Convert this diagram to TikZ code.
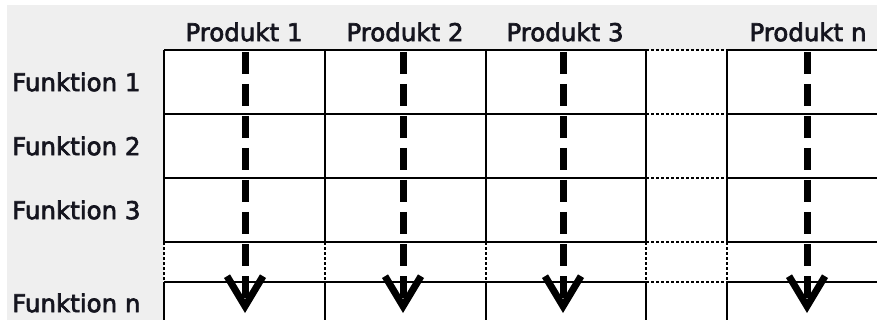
\documentclass[tikz,border=0pt]{standalone}
\usepackage{fontspec}
\setmainfont{DejaVu Sans}
\newfontfamily\lblfont{DejaVu Sans}[FakeBold=2.6]
\usetikzlibrary{arrows.meta}
\definecolor{bggray}{HTML}{EFEFEF}
\definecolor{txt}{HTML}{15151F}
\begin{document}
\begin{tikzpicture}[x=1pt,y=-1pt,
  lbl/.style={font=\lblfont\fontsize{24.5}{28}\selectfont, text=txt, inner sep=0pt},
  gridline/.style={line width=1.4pt, black},
  dotline/.style={line width=1.4pt, black, dash pattern=on 2.5pt off 2.5pt},
  flow/.style={line width=7pt, black, dash pattern=on 22pt off 10pt,
    -{Straight Barb[length=30pt,width=36pt,line width=7pt]}}]
\useasboundingbox (0,0) rectangle (877,320);
\fill[white] (0,0) rectangle (877,320);
\fill[bggray] (7,5) rectangle (877,320);
% cells
\foreach \a/\b in {164/325,325/486,486/646,727/877}{
  \fill[white] (\a,50) rectangle (\b,242);
  \fill[white] (\a,282) rectangle (\b,320);
}
\fill[white] (164,242) rectangle (877,282);
\fill[white] (646,50) rectangle (727,320);
% horizontal lines
\foreach \y in {50,114,178,242,282}{
  \draw[gridline] (164,\y) -- (646,\y);
  \draw[dotline] (646,\y) -- (727,\y);
  \draw[gridline] (727,\y) -- (877,\y);
}
% vertical lines
\foreach \x in {164,325,486,646,727}{
  \draw[gridline] (\x,50) -- (\x,242);
  \draw[dotline] (\x,242) -- (\x,282);
  \draw[gridline] (\x,282) -- (\x,320);
}
% labels
\node[lbl] (p1) at (244,32) {Produkt 1};
\node[lbl] (p2) at (405,32) {Produkt 2};
\node[lbl] (p3) at (565,32) {Produkt 3};
\node[lbl] (pn) at (808,32) {Produkt n};
\node[lbl, anchor=west] (f1) at (12,82) {Funktion 1};
\node[lbl, anchor=west] (f2) at (12,146) {Funktion 2};
\node[lbl, anchor=west] (f3) at (12,210) {Funktion 3};
\node[lbl, anchor=west] (fn) at (12,303) {Funktion n};
% arrows
\foreach \n/\x in {1/245,2/403,3/563,4/807}{
  \coordinate (t\n) at (\x,52);
  \coordinate (b\n) at (\x,313);
  \draw[flow] (t\n) -- (b\n);
}
\end{tikzpicture}
\end{document}
